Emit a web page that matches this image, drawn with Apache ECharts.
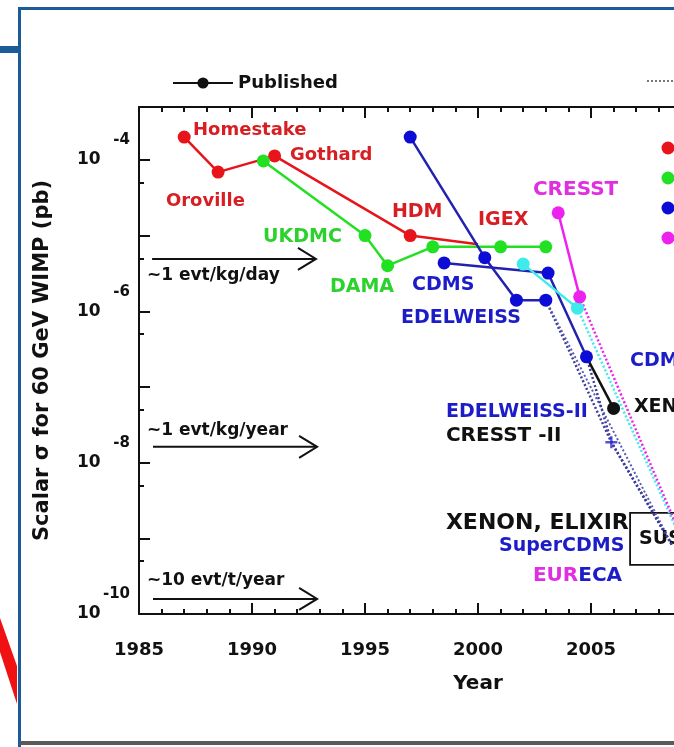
<!DOCTYPE html>
<html><head><meta charset="utf-8">
<script src="https://cdn.jsdelivr.net/npm/echarts@6.0.0/dist/echarts.min.js"></script>
<style>html,body{margin:0;padding:0;background:#fff;}#c{width:674px;height:747px;}</style>
</head><body><div id="c"></div>
<script>
// ---------------- data ----------------
const yLabelValues = [1e-4, 1e-6, 1e-8, 1e-10];
const yMajorTicks = [1e-4, 1e-5, 1e-6, 1e-7, 1e-8, 1e-9, 1e-10];
const yMinorTicks = [5e-5, 5e-6, 5e-7, 5e-8, 5e-9, 5e-10];

const redYears   = [1987.0, 1988.5, 1991.0, 1997.0, 2000.0];
const redSigma   = [2.0e-4, 6.9e-5, 1.13e-4, 1.0e-5, 7.7e-6];
const greenYears = [1990.5, 1995.0, 1996.0, 1998.0, 2001.0, 2003.0];
const greenSigma = [9.7e-5, 1.0e-5, 4.0e-6, 7.1e-6, 7.1e-6, 7.1e-6];
const edelYears  = [1997.0, 2000.3, 2001.7, 2003.0];
const edelSigma  = [2.0e-4, 5.1e-6, 1.4e-6, 1.4e-6];
const cdmsYears  = [1998.5, 2003.1, 2004.8];
const cdmsSigma  = [4.35e-6, 3.2e-6, 2.5e-7];
const xenonYears = [2004.8, 2006.0];
const xenonSigma = [2.5e-7, 5.2e-8];
const cyanYears  = [2002.0, 2004.4];
const cyanSigma  = [4.2e-6, 1.1e-6];
const cresstYears = [2003.55, 2004.5];
const cresstSigma = [2.0e-5, 1.55e-6];

// projections (dotted)
const projEdelYears  = [2003.0, 2005.9, 2008.6];
const projEdelSigma  = [1.4e-6, 1.86e-8, 8.0e-10];
const projEdelBYears = [2003.0, 2008.6];
const projEdelBSigma = [1.4e-6, 8.0e-10];
const projCdmsYears  = [2004.8, 2005.9, 2008.6];
const projCdmsSigma  = [2.5e-7, 1.86e-8, 8.0e-10];
const projCyanYears  = [2004.4, 2009.0];
const projCyanSigma  = [1.1e-6, 9.5e-10];
const projCresstYears = [2004.5, 2009.4];
const projCresstSigma = [1.55e-6, 5.4e-10];
const edel2Years = [2005.9];
const edel2Sigma = [1.86e-8];

// event-rate reference arrows
const rateSigma = [4.92e-6, 1.62e-8, 1.58e-10];
const rateFrom  = [1985.58, 1985.62, 1985.62];
const rateTo    = [1992.83, 1992.88, 1992.88];

// SUSY region box
const susyYears = [2006.73, 2012.0];
const susySigma = [2.17e-9, 4.47e-10];

// annotation texts and their anchors (data coordinates)
const annoTexts = ['Homestake','Gothard','Oroville','HDM','IGEX','UKDMC','DAMA','CDMS','EDELWEISS','CRESST',
  'CDMS-II','XENON','EDELWEISS-II','CRESST -II','XENON, ELIXIR','SuperCDMS','EURECA',
  '~1 evt/kg/day','~1 evt/kg/year','~10 evt/t/year'];
const annoYears = [1987.39,1991.68,1986.19,1996.19,2000.0,1990.49,1993.45,1997.08,1996.59,2002.43,
  2006.73,2006.90,1998.58,1998.58,1998.58,2000.93,2002.43,
  1985.35,1985.35,1985.35];
const annoSigma = [2.49e-4,1.16e-4,2.87e-5,2.06e-5,1.61e-5,9.6e-6,2.1e-6,2.23e-6,8.2e-7,4.0e-5,
  2.2e-7,5.5e-8,4.7e-8,2.26e-8,1.6e-9,8.0e-10,3.2e-10,
  2.94e-6,2.63e-8,2.75e-10];

// ---------------- styles ----------------
const FONT = 'DejaVu Sans';
const RED = '#e8141c', RED_T = '#d81e22';
const GREEN = '#22e022', GREEN_T = '#2bd22b';
const BLUE = '#0c0cd6', BLUE_L = '#2222b0', BLUE_T = '#1c1cc8';
const MAG = '#ee22ee', MAG_T = '#e02ee0';
const CYAN = '#3eeaea';
const BLK = '#111111';
const BLUE_DOT = '#3c3c9c';

const annoStyle = [
  [RED_T,18],[RED_T,18],[RED_T,18],[RED_T,19],[RED_T,19],[GREEN_T,19],[GREEN_T,19],[BLUE_T,19],[BLUE_T,19],[MAG_T,20],
  [BLUE_T,19],[BLK,19],[BLUE_T,19],[BLK,20],[BLK,22],[BLUE_T,19],['rich',20],
  [BLK,17],[BLK,17],[BLK,17]
];

const pts = (xs, ys) => xs.map((x, i) => [x, ys[i]]);

function solid(name, xs, ys, lineColor, dotColor, noSymbolIdx) {
  return {
    name, type: 'line', xAxisIndex: 0, yAxisIndex: 0, z: 4,
    data: pts(xs, ys).map((p, i) => (noSymbolIdx && noSymbolIdx.includes(i)) ? {value: p, symbol: 'none'} : p),
    symbol: 'circle', symbolSize: 13, showAllSymbol: true,
    lineStyle: {color: lineColor, width: 2.5},
    itemStyle: {color: dotColor},
    emphasis: {disabled: true}, animation: false
  };
}
function dotted(xs, ys, color, width) {
  return {
    type: 'line', xAxisIndex: 0, yAxisIndex: 0, z: 3,
    data: pts(xs, ys), symbol: 'none',
    lineStyle: {color, width: width || 2.5, type: [2, 2.2]},
    emphasis: {disabled: true}, animation: false, silent: true
  };
}

const GRID = {left: 139, top: 107, width: 678, height: 507, outerBoundsMode: 'none', containLabel: false};

const chart = echarts.init(document.getElementById('c'), null, {renderer: 'canvas'});
chart.setOption({
  animation: false,
  backgroundColor: '#ffffff',
  textStyle: {fontFamily: FONT},
  grid: [Object.assign({}, GRID), Object.assign({}, GRID)],
  legend: [
    {data: ['Published'], left: 167, top: 69, itemWidth: 60, itemHeight: 14, itemGap: 0,
     textStyle: {fontFamily: FONT, fontWeight: 'bold', fontSize: 18, color: BLK}, selectedMode: false},
    {data: ['Projected'], left: 641, top: 69, itemWidth: 40, itemHeight: 14, formatter: () => '',
     itemStyle: {opacity: 0}, textStyle: {fontSize: 1}, selectedMode: false}
  ],
  xAxis: [
    {gridIndex: 0, type: 'value', position: 'bottom', min: 1985, max: 2015, interval: 5,
     name: 'Year', nameLocation: 'middle', nameGap: 60,
     nameTextStyle: {fontFamily: FONT, fontWeight: 'bold', fontSize: 20, color: BLK},
     axisLine: {show: true, lineStyle: {color: BLK, width: 2}},
     axisTick: {show: true, inside: true, length: 11, lineStyle: {color: BLK, width: 2}},
     minorTick: {show: true, splitNumber: 5, length: 5, lineStyle: {color: BLK, width: 2}},
     axisLabel: {show: true, margin: 27, fontFamily: FONT, fontWeight: 'bold', fontSize: 18, color: BLK,
                 formatter: v => String(v)},
     splitLine: {show: false}, minorSplitLine: {show: false}},
    {gridIndex: 0, type: 'value', position: 'top', min: 1985, max: 2015, interval: 5,
     axisLine: {show: true, lineStyle: {color: BLK, width: 2}},
     axisTick: {show: true, inside: true, length: 11, lineStyle: {color: BLK, width: 2}},
     minorTick: {show: true, splitNumber: 5, length: 5, lineStyle: {color: BLK, width: 2}},
     axisLabel: {show: false}, splitLine: {show: false}},
    {gridIndex: 1, type: 'value', min: 1985, max: 2015, show: false}
  ],
  yAxis: [
    {gridIndex: 0, type: 'log', logBase: 10, min: 1e-10, max: 5e-4, position: 'left',
     name: 'Scalar \u03C3 for 60 GeV WIMP (pb)', nameLocation: 'middle', nameRotate: 90, nameGap: 86,
     nameTextStyle: {fontFamily: FONT, fontWeight: 'bold', fontSize: 21, color: BLK},
     axisLine: {show: true, lineStyle: {color: BLK, width: 2}},
     axisTick: {show: true, inside: true, length: 11, customValues: yMajorTicks, lineStyle: {color: BLK, width: 2}},
     axisLabel: {show: true, customValues: yLabelValues, margin: 9, width: 53, overflow: 'none', align: 'right',
       formatter: v => '{b|10}{s|' + Math.round(Math.log10(v)) + '}',
       rich: {
         b: {fontFamily: FONT, fontWeight: 'bold', fontSize: 17, color: BLK, lineHeight: 54, align: 'left', verticalAlign: 'middle'},
         s: {fontFamily: FONT, fontWeight: 'bold', fontSize: 15, color: BLK, lineHeight: 16, align: 'right', verticalAlign: 'top'}
       }},
     splitLine: {show: false}},
    {gridIndex: 1, type: 'log', logBase: 10, min: 1e-10, max: 5e-4, position: 'left',
     axisLine: {show: false},
     axisTick: {show: true, inside: true, length: 5, customValues: yMinorTicks, lineStyle: {color: BLK, width: 2}},
     axisLabel: {show: false}, splitLine: {show: false}}
  ],
  graphic: [
    {type: 'rect', shape: {x: 18, y: 7, width: 660, height: 3}, style: {fill: '#1b5c98'}, z: 100},
    {type: 'rect', shape: {x: 18, y: 7, width: 3, height: 745}, style: {fill: '#1b5c98'}, z: 100},
    {type: 'rect', shape: {x: 0, y: 46, width: 19, height: 7}, style: {fill: '#1b5c98'}, z: 100},
    {type: 'rect', shape: {x: 20, y: 741, width: 660, height: 4}, style: {fill: '#5a5a5a'}, z: 100},
    {type: 'polygon', shape: {points: [[0, 618], [17, 666], [17, 704], [0, 652]]}, style: {fill: '#f01212'}, z: 100},
    {type: 'circle', shape: {cx: 668, cy: 148, r: 6.5}, style: {fill: RED}},
    {type: 'circle', shape: {cx: 668, cy: 178, r: 6.5}, style: {fill: GREEN}},
    {type: 'circle', shape: {cx: 668, cy: 208, r: 6.5}, style: {fill: BLUE}},
    {type: 'circle', shape: {cx: 668, cy: 238, r: 6.5}, style: {fill: MAG}}
  ],
  series: [
    dotted(projEdelYears, projEdelSigma, BLUE_DOT, 2.5),
    dotted(projEdelBYears, projEdelBSigma, '#5a5ab0', 2),
    dotted(projCdmsYears, projCdmsSigma, BLUE_DOT, 2.5),
    dotted(projCyanYears, projCyanSigma, CYAN, 2.5),
    dotted(projCresstYears, projCresstSigma, MAG, 2.5),
    solid('Ge', redYears, redSigma, RED, RED, [4]),
    solid('NaI', greenYears, greenSigma, GREEN, GREEN),
    solid('EDELWEISS', edelYears, edelSigma, BLUE_L, BLUE),
    solid('CDMS', cdmsYears, cdmsSigma, BLUE_L, BLUE),
    solid('Published', xenonYears, xenonSigma, BLK, BLK, [0]),
    solid('CYAN', cyanYears, cyanSigma, CYAN, CYAN),
    solid('CRESST', cresstYears, cresstSigma, MAG, MAG),
    {name: 'Projected', type: 'line', data: [], symbol: 'none',
     lineStyle: {color: '#777', width: 2, type: [2, 2]}, itemStyle: {color: '#777'}},
    {type: 'scatter', z: 5, data: pts(edel2Years, edel2Sigma),
     symbol: 'path://M4,0H6V4H10V6H6V10H4V6H0V4H4Z', symbolSize: 12,
     itemStyle: {color: '#2a2ad0'}, emphasis: {disabled: true}},
    // event-rate arrows
    {type: 'custom', z: 6, silent: true,
     data: rateSigma.map((s, i) => [rateFrom[i], rateTo[i], s]),
     encode: {x: [0, 1], y: 2},
     renderItem: (params, api) => {
       const p0 = api.coord([api.value(0), api.value(2)]);
       const p1 = api.coord([api.value(1), api.value(2)]);
       return {type: 'group', children: [
         {type: 'line', shape: {x1: p0[0], y1: p0[1], x2: p1[0], y2: p1[1]}, style: {stroke: BLK, lineWidth: 2}},
         {type: 'polyline', shape: {points: [[p1[0] - 18, p1[1] - 11], [p1[0], p1[1]], [p1[0] - 18, p1[1] + 11]]},
          style: {stroke: BLK, lineWidth: 2, fill: null}}
       ]};
     }},
    // SUSY box
    {type: 'custom', z: 2, silent: true,
     data: [[susyYears[0], susySigma[0], susyYears[1], susySigma[1]]],
     encode: {x: [0, 2], y: [1, 3]},
     renderItem: (params, api) => {
       const a = api.coord([api.value(0), api.value(1)]);
       const b = api.coord([api.value(2), api.value(3)]);
       return {type: 'group', children: [
         {type: 'rect', shape: {x: a[0], y: a[1], width: b[0] - a[0], height: b[1] - a[1]},
          style: {stroke: BLK, lineWidth: 1.8, fill: null}},
         {type: 'text', x: a[0] + 9, y: (a[1] + b[1]) / 2,
          style: {text: 'SUSY', fill: BLK, fontFamily: FONT, fontWeight: 'bold', fontSize: 19,
                  align: 'left', verticalAlign: 'middle'}}
       ]};
     }},
    // annotations
    {type: 'custom', z: 7, silent: true,
     data: annoYears.map((y, i) => [y, annoSigma[i]]),
     encode: {x: 0, y: 1},
     renderItem: (params, api) => {
       const i = params.dataIndex;
       const p = api.coord([api.value(0), api.value(1)]);
       const st = annoStyle[i];
       const style = {text: annoTexts[i], fontFamily: FONT, fontWeight: 'bold', fontSize: st[1],
                      align: 'left', verticalAlign: 'middle', fill: st[0]};
       if (st[0] === 'rich') {
         style.text = '{m|EUR}{b|ECA}';
         style.fill = BLUE_T;
         style.rich = {
           m: {fill: MAG_T, color: MAG_T, fontFamily: FONT, fontWeight: 'bold', fontSize: st[1]},
           b: {fill: BLUE_T, color: BLUE_T, fontFamily: FONT, fontWeight: 'bold', fontSize: st[1]}
         };
       }
       return {type: 'text', x: p[0], y: p[1], style};
     }}
  ]
});
</script></body></html>
